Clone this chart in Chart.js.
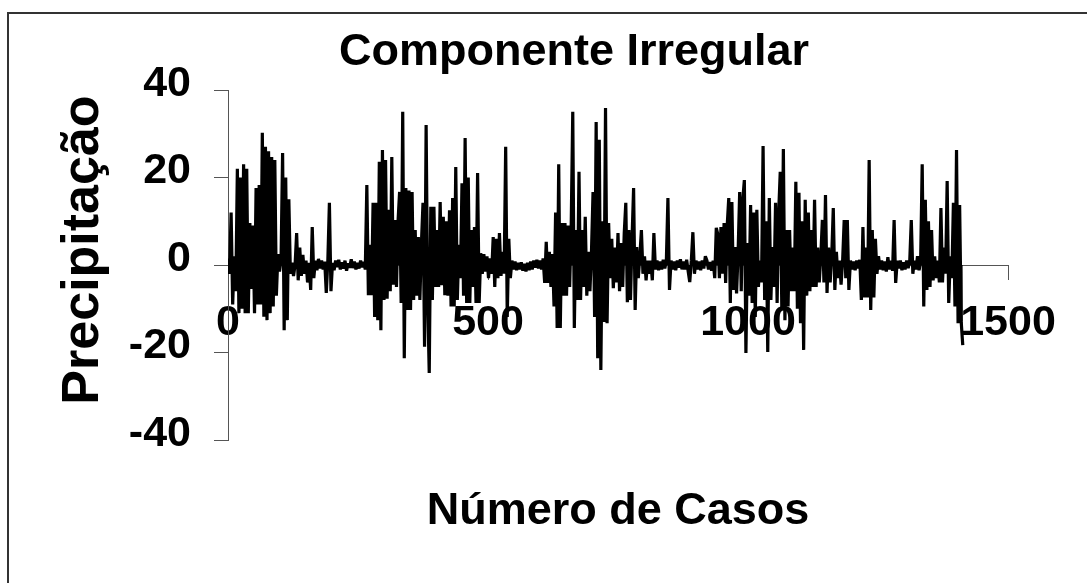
<!DOCTYPE html>
<html lang="pt">
<head>
<meta charset="utf-8">
<title>Componente Irregular</title>
<script src="https://cdn.jsdelivr.net/npm/chart.js@4/dist/chart.umd.min.js"></script>
<style>
  html, body { margin: 0; padding: 0; background: #fff; }
  canvas { display: block; }
</style>
</head>
<body>
<canvas id="grafico" width="1087" height="583"></canvas>
<script>
// Textos do gráfico
const titulo = 'Componente Irregular';
const tituloEixoX = 'Número de Casos';
const tituloEixoY = 'Precipitação';

// Marcas dos eixos
const ticksX = [0, 500, 1000, 1500];
const ticksY = [-40, -20, 0, 20, 40];

// Componente irregular da precipitação, um valor a cada 3 casos
const passoCasos = 3;
const trecho1 = [ // casos 0 a 297
  1.5, -2, 12, -9, 2, -6, 22, -11, 20, -10,
  23, -11, 22, -11, 9.6, -5.5, 9, -11, 17.6, -9,
  18.3, -9, 30.2, -11.8, 27, -12.6, 26, -11, 24.7, -9.5,
  24, -7, 2.5, -1.5, 1, 25.6, -14.9, 20, -12.6, 15,
  -2, 0.5, -2.5, 0, 7.3, -3.5, 4, -2.5, 2.3, -2,
  1, -4, 0.5, -5.7, 8.7, -3, 1, -1.2, 1.4, -0.8,
  1, -1, 0.8, -6.4, 1, 14.2, -6, 0.5, -1.2, 1,
  -0.5, 1.2, -1, 0.6, -0.8, 1, -1.3, 0.4, -0.6, 1.3,
  -0.7, 0.8, -1, 0.5, -0.8, 1, -0.5, 0.7, -1, 18.3,
  -6.9, 4.6, -6.9, 14.2, -11.9, 14.2, -12.6, 23.6, -14.9, 26.3
];
const trecho2 = [ // casos 300 a 597
  -8, 24, -7.7, 12.6, -6, 24.7, -4.5, 10.3, -5, 10,
  16.7, -8.7, 35, -21.3, 17.6, -10.3, 17, -10.3, 16.7, -8,
  8, -7, 6.4, -8, 5, 14.2, -18.7, 32, -8, -24.7,
  13.3, -8, 13.3, -5, 8, -5, 14.4, -4.6, 11, -6.9,
  10, -7, 12.5, -9.5, 15.3, -9.5, 22.4, -8, 4.6, -3,
  18.7, -7, 29, -8.7, 20, -8.7, 8, -5, 8.7, -8.7,
  21, -8.7, 2.7, -2, 2.5, -1.5, 2, -3, 1.5, -2,
  6.4, -5, 6, -3, 7.3, -2.5, 3, -2, 27, -11.9,
  6, -3, 1, -1, 0.8, -1.2, 0.5, -1, 0.6, -1.3,
  0.3, -1.5, 0.5, -1.2, 0.8, -1, 1, -0.6, 1.2, -0.8
];
const trecho3 = [ // casos 600 a 897
  1, -1, 1.5, -4.1, 5.3, -4.1, 3, -5, 2.5, -9.5,
  12, -14.4, 23, -14.4, 9.6, -7, 9.6, -7, 9, -5,
  9, 35, -14.4, 8, -8, 21.3, -8, 8, -5, 11,
  -7, 3, -6, 3, 16.7, -11.9, 32.7, -21.3, 28.6, -24,
  10, -13, 35.9, -13.3, 9.6, -3, 6, -5.3, 4, -4,
  7.3, -6, 5, -5, 7.3, 14.2, -8.5, 8, -8, 6,
  17.6, -10.3, 4.1, -3, 2, 8, -2, 2, -3.5, 1,
  -2, 1, -3.5, 7.3, -1, 1, -1.2, 0.8, -1, 1.2,
  -0.8, 1, 15.3, -5.7, 1, -1, 0.8, -1.2, 1, -0.6,
  1.3, -1, 0.8, -1, 1.2, -1.5, -3.9, 1, 7.5, -2
];
const trecho4 = [ // casos 900 a 1197
  1, -1, 0.8, -1.2, 1, -0.8, 2, 1, -1, 0.7,
  -1.3, 1, -3, 8.5, 7, -3, 8.7, -2, 9.6, -4.1,
  9, 15.3, -8.7, 14.4, -5.7, 4.1, -6.5, 3, 16.7, -6,
  15, 19.4, -20.1, 5, -7, 13.7, -8.7, 12, -11.9, 12.6,
  -5, 1, -4, 27.2, -8, 10, -19.9, 15.3, -8, 4.1,
  -5, 14.2, -8.7, 12, 21.3, -10, 26.5, -12.6, 8, -9.5,
  8, -6, 4, -6, 19, -10, 16.5, -13.3, 10, -19.4,
  14.9, -7, 12, -6, 8, -5, 14.9, -5, 4, -4,
  2, 10.3, -4, 16, -6.4, 4, -4, 2, 13, -5.7,
  3, -3, 1, -4.5, 1, 10.3, -3, 10.3, -5.7, 1
];
const trecho5 = [ // casos 1200 a 1413
  -1, 0.8, -1.2, 1, -0.8, 1.2, -8, 8.7, -7.4, 4,
  -7.4, 24, -10.3, 8, -7.4, 6, -2, 2, -1, 1,
  -1.2, 0.8, -1.5, 1.8, -1, 1, -1.3, 10.3, -4.1, 1,
  -0.8, 1, -1.2, 0.6, -1, 1, -0.7, 0.8, 10.3, -2,
  1, -1, 2, -1.2, 1, 23, -9.5, 14.9, -5.7, 10,
  -5, 8, -3.5, 2, -3, 1, -4, 13, -4, 4,
  -2, 19.2, -8.7, 2, -3, 14.2, -9.5, 26.3, -13.3, 13.7,
  -13, -18.3
];
const precipitacao = [].concat(trecho1, trecho2, trecho3, trecho4, trecho5);
const casos = precipitacao.map((_, i) => i * passoCasos);
const pontos = precipitacao.map((v, i) => ({ x: casos[i], y: v }));

const FONTE = "'Liberation Sans', Arial, Helvetica, sans-serif";
const COR_EIXO = '#555';

// Moldura e textos (título e títulos dos eixos)
const molduraETextos = {
  id: 'molduraETextos',
  beforeDraw(chart) {
    const ctx = chart.ctx;
    ctx.save();
    ctx.fillStyle = '#fff';
    ctx.fillRect(0, 0, chart.width, chart.height);
    ctx.strokeStyle = '#333';
    ctx.lineWidth = 2;
    ctx.beginPath();
    ctx.moveTo(8, chart.height);
    ctx.lineTo(8, 13);
    ctx.lineTo(chart.width, 13);
    ctx.stroke();
    ctx.restore();
  },
  afterDraw(chart) {
    const ctx = chart.ctx;
    ctx.save();
    ctx.fillStyle = '#000';
    ctx.textAlign = 'center';
    ctx.textBaseline = 'alphabetic';
    ctx.font = 'bold 45px ' + FONTE;
    ctx.fillText(titulo, 574, 65);
    ctx.fillText(tituloEixoX, 618, 524);
    ctx.font = 'bold 52px ' + FONTE;
    ctx.translate(98, 250);
    ctx.rotate(-Math.PI / 2);
    ctx.fillText(tituloEixoY, 0, 0);
    ctx.restore();
  }
};

new Chart(document.getElementById('grafico'), {
  type: 'line',
  data: {
    datasets: [{
      data: pontos,
      borderColor: '#000',
      backgroundColor: '#000',
      borderWidth: 3.2,
      borderJoinStyle: 'bevel',
      pointRadius: 0,
      tension: 0,
      fill: 'origin'
    }]
  },
  options: {
    responsive: false,
    animation: false,
    devicePixelRatio: 1,
    events: [],
    layout: { padding: { left: 0, top: 90, right: 79, bottom: 143 } },
    plugins: {
      legend: { display: false },
      tooltip: { enabled: false },
      title: { display: false }
    },
    scales: {
      x: {
        type: 'linear',
        min: ticksX[0],
        max: ticksX[ticksX.length - 1],
        position: { y: 0 },
        afterFit(scale) { scale.height = 0; },
        afterBuildTicks(scale) { scale.ticks = ticksX.map(v => ({ value: v })); },
        grid: { drawOnChartArea: false, drawTicks: true, tickLength: 14, color: COR_EIXO, lineWidth: 1 },
        border: { display: true, color: COR_EIXO, width: 1 },
        ticks: {
          color: '#000',
          font: { family: FONTE, size: 43, weight: 'bold' },
          padding: 18,
          maxRotation: 0,
          autoSkip: false,
          callback: v => String(v)
        }
      },
      y: {
        type: 'linear',
        min: ticksY[0],
        max: ticksY[ticksY.length - 1],
        position: 'left',
        afterFit(scale) { scale.width = 228; },
        afterBuildTicks(scale) { scale.ticks = ticksY.map(v => ({ value: v })); },
        grid: { drawOnChartArea: false, drawTicks: true, tickLength: 14, color: COR_EIXO, lineWidth: 1 },
        border: { display: true, color: COR_EIXO, width: 1 },
        ticks: {
          color: '#000',
          font: { family: FONTE, size: 43, weight: 'bold' },
          padding: 23,
          labelOffset: -6,
          autoSkip: false,
          callback: v => String(v)
        }
      }
    }
  },
  plugins: [molduraETextos]
});
</script>
</body>
</html>
